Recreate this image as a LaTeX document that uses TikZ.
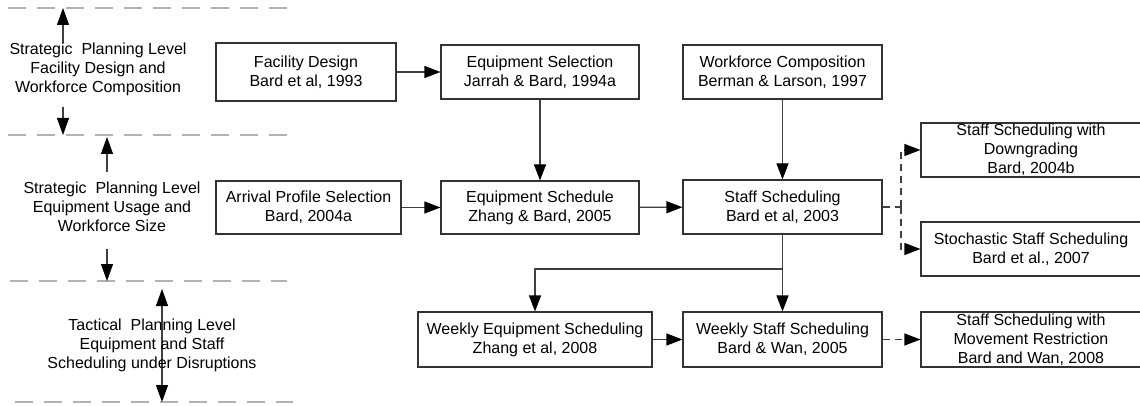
\documentclass[tikz,border=0pt]{standalone}
\usepackage{fontspec}
\setmainfont{Liberation Sans}
\usetikzlibrary{arrows.meta}
\begin{document}
\begin{tikzpicture}[x=1pt,y=-1pt,
  every node/.style={font=\fontsize{16}{19}\selectfont, align=center, inner sep=0pt},
  box/.style={draw=black!80, line width=1.1pt, rectangle},
  conn/.style={draw=black!75, line width=1.1pt},
  tip/.style={-{Triangle[length=16pt,width=12pt,fill=black,color=black]}},
  arr/.style={conn, tip},
  dasharr/.style={conn, dash pattern=on 7pt off 5pt, tip},
  dashconn/.style={conn, dash pattern=on 7pt off 5pt},
  levelline/.style={draw=black!30, line width=1.3pt, dash pattern=on 18pt off 11pt},
  larr/.style={draw=black!75, line width=1.1pt, -{Triangle[length=17pt,width=12pt,fill=black,color=black]}},
  larrboth/.style={draw=black!75, line width=1.1pt, {Triangle[length=17pt,width=12pt,fill=black,color=black]}-{Triangle[length=17pt,width=12pt,fill=black,color=black]}}
]
\useasboundingbox (0,0) rectangle (1140,406);

% level lines
\draw[levelline] (8,8) -- (287,8);
\draw[levelline] (8,135) -- (297,135);
\draw[levelline] (10,281) -- (287,281);
\draw[levelline] (15,402) -- (293,402);

% level arrows
\coordinate (a1s) at (63,43);  \coordinate (a1e) at (63,8);
\coordinate (a2s) at (63,107); \coordinate (a2e) at (63,135);
\coordinate (a3s) at (107,172); \coordinate (a3e) at (107,137);
\coordinate (a4s) at (107,249); \coordinate (a4e) at (107,281);
\coordinate (a5s) at (162,289); \coordinate (a5e) at (162,402);
\draw[larr] (a1s) -- (a1e);
\draw[larr] (a2s) -- (a2e);
\draw[larr] (a3s) -- (a3e);
\draw[larr] (a4s) -- (a4e);
\draw[larrboth] (a5s) -- (a5e);

% level labels
\node (l1) at (98,69) {Strategic~~Planning Level\\Facility Design and\\Workforce Composition};
\node (l2) at (112,207) {Strategic~~Planning Level\\Equipment Usage and\\Workforce Size};
\node (l3) at (152,345) {Tactical~~Planning Level\\Equipment and Staff\\Scheduling under Disruptions};

% boxes
\node[box, minimum width=180pt, minimum height=58pt] (fd) at (306,72) {Facility Design\\Bard et al, 1993};
\node[box, minimum width=198pt, minimum height=54pt] (es) at (540,72) {Equipment Selection\\Jarrah \& Bard, 1994a};
\node[box, minimum width=199pt, minimum height=54pt] (wc) at (782.5,72) {Workforce Composition\\Berman \& Larson, 1997};
\node[box, minimum width=185pt, minimum height=53pt] (ap) at (308.5,207.5) {Arrival Profile Selection\\Bard, 2004a};
\node[box, minimum width=198pt, minimum height=53pt] (esch) at (540,207.5) {Equipment Schedule\\Zhang \& Bard, 2005};
\node[box, minimum width=199pt, minimum height=54pt] (ss) at (782.5,207) {Staff Scheduling\\Bard et al, 2003};
\node[box, minimum width=220pt, minimum height=54pt] (dg) at (1031,150) {Staff Scheduling with\\Downgrading\\Bard, 2004b};
\node[box, minimum width=220pt, minimum height=54pt] (st) at (1031,249) {Stochastic Staff Scheduling\\Bard et al., 2007};
\node[box, minimum width=234pt, minimum height=55pt] (we) at (535,339.5) {Weekly Equipment Scheduling\\Zhang et al, 2008};
\node[box, minimum width=199pt, minimum height=55pt] (ws) at (782.5,339.5) {Weekly Staff Scheduling\\Bard \& Wan, 2005};
\node[box, minimum width=220pt, minimum height=55pt] (mr) at (1031,339.5) {Staff Scheduling with\\Movement Restriction\\Bard and Wan, 2008};

% connectors
\draw[arr] (fd) -- (es);
\draw[arr] (es) -- (esch);
\draw[arr] (wc) -- (ss);
\draw[arr] (ap) -- (esch);
\draw[arr] (esch) -- (ss);
\draw[arr] (ss) -- (ws);
\coordinate (br) at (782.5,269);
\draw[arr] (br) -| (we.north);
\draw[arr] (we) -- (ws);
\draw[dasharr] (ws) -- (mr);
\coordinate (dj) at (901,207);
\draw[dashconn] (ss.east) -- (dj);
\draw[dasharr] (dj) |- (dg.west);
\draw[dasharr] (dj) |- (st.west);
\end{tikzpicture}
\end{document}
